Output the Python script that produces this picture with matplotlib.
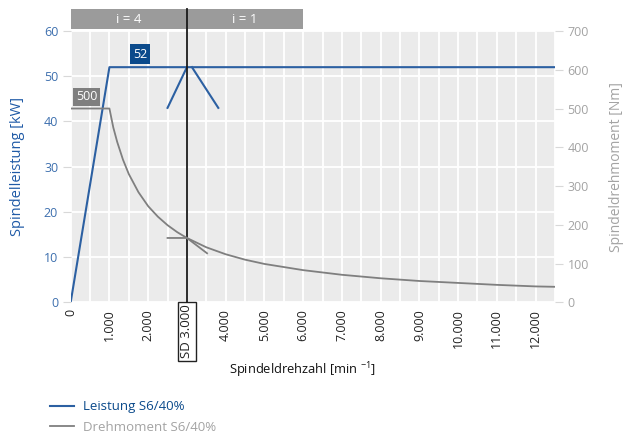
import matplotlib.pyplot as plt
from matplotlib import transforms
from matplotlib.patches import Rectangle

plt.rcParams['font.family'] = ['Open Sans', 'DejaVu Sans']
plt.rcParams['mathtext.fontset'] = 'custom'
plt.rcParams['mathtext.rm'] = 'Open Sans'

# spindle power S6/40% (kW) over speed (min^-1)
speed_power = [0, 1000, 12500]
power_kw = [0, 52, 52]

# spindle torque S6/40% (Nm)
speed_torque = [0, 1000, 1100, 1200, 1350, 1500, 1750, 2000, 2250, 2500, 2750,
                3000, 3500, 4000, 4500, 5000, 6000, 7000, 8000, 9000, 10000,
                11000, 12000, 12500]
torque_nm = [500, 500, 451, 414, 368, 331, 284, 248, 221, 199, 181,
             166, 142, 124, 110, 99, 83, 71, 62, 55, 50,
             45, 41, 40]

x_ticks = [0, 1000, 2000, 4000, 5000, 6000, 7000, 8000, 9000, 10000, 11000, 12000]
x_labels = ['0', '1.000', '2.000', '4.000', '5.000', '6.000', '7.000', '8.000',
            '9.000', '10.000', '11.000', '12.000']
gears = [(0, 3000, 'i = 4'), (3000, 6000, 'i = 1')]
sd_speed = 3000
rated_power = 52
rated_torque = 500

BLUE = '#2c60a2'
DARKBLUE = '#0b4a8b'
GREY = '#7f7f7f'
LIGHT = '#a3a3a3'

fig = plt.figure(figsize=(6.35, 4.41), dpi=100)
ax = fig.add_axes([0.1113, 0.3145, 0.7627, 0.6152])
ax2 = ax.twinx()

ax.set_facecolor('#ebebeb')
ax.set_xlim(0, 12500)
ax.set_ylim(0, 60)
ax2.set_ylim(0, 700)
ax.set_xticks(x_ticks)
ax.set_xticklabels(x_labels, rotation=90, fontsize=9, color='#222222')
ax.set_xticks(range(0, 12501, 500), minor=True)
ax.set_yticks(range(0, 61, 10))
ax2.set_yticks(range(0, 701, 100))
ax.grid(True, which='both', color='white', lw=1.3)
ax.set_axisbelow(True)
for a in (ax, ax2):
    for s in a.spines.values():
        s.set_visible(False)
ax.tick_params(axis='x', which='both', length=0, pad=5)
ax.tick_params(axis='y', length=6, color='#d8d8d8', labelcolor='#3d6fae', labelsize=9, pad=3)
ax2.tick_params(axis='y', length=6, color='#d8d8d8', labelcolor=LIGHT, labelsize=9, pad=3)

l_power, = ax.plot(speed_power, power_kw, color=BLUE, lw=1.5, zorder=5,
                   label='Leistung S6/40%')
l_torque, = ax2.plot(speed_torque, torque_nm, color=GREY, lw=1.3, zorder=4,
                     label='Drehmoment S6/40%')

# value tags
ax.text(1790, 54.9, str(rated_power), color='white', fontsize=9, ha='center', va='center',
        bbox=dict(boxstyle='square,pad=0.25', fc=DARKBLUE, ec='none'), zorder=6)
ax2.text(410, 531, str(rated_torque), color='white', fontsize=9, ha='center', va='center',
         bbox=dict(boxstyle='square,pad=0.2', fc=GREY, ec='none'), zorder=6)

# switching point markers
ax.plot([2500, sd_speed], [43, rated_power], color=BLUE, lw=1.5, zorder=5)
ax.plot([3130, 3810], [rated_power, 43], color=BLUE, lw=1.5, zorder=5)
ax2.plot([2500, sd_speed, 3520], [166, 166, 126.5], color=GREY, lw=1.3, zorder=4)

# gear range bars above the plot
tr = transforms.blended_transform_factory(ax.transData, ax.transAxes)
for x0, x1, txt in gears:
    ax.add_patch(Rectangle((x0, 1.0074), x1 - x0, 0.074, transform=tr, fc='#9b9b9b',
                           ec='none', clip_on=False))
    ax.text((x0 + x1) / 2, 1.044, txt, transform=tr, color='white', fontsize=9.5,
            ha='center', va='center')

ax.plot([sd_speed, sd_speed], [0, 1.0815], transform=tr, color='#1a1a1a', lw=1.3,
        clip_on=False, zorder=7)
ax.text(sd_speed, -0.008, 'SD 3.000', transform=tr, rotation=90, ha='center', va='top',
        fontsize=9.5, color='#222222',
        bbox=dict(boxstyle='square,pad=0.2', fc='white', ec='#222222', lw=1))

fig.text(302 / 635, 1 - 370 / 441, 'Spindeldrehzahl [min $^{-1}$]', ha='center', va='center',
         fontsize=9.3, color='#111111')
fig.text(18 / 635, 1 - 167 / 441, 'Spindelleistung [kW]', rotation=90, ha='center',
         va='center', fontsize=10.5, color='#1f5aa6')
fig.text(617 / 635, 1 - 167 / 441, 'Spindeldrehmoment [Nm]', rotation=90, ha='center',
         va='center', fontsize=10, color=LIGHT)

leg = fig.legend(handles=[l_power, l_torque], loc='center left',
                 bbox_to_anchor=(50 / 635, 1 - 417 / 441), frameon=False, fontsize=9.5,
                 borderpad=0, borderaxespad=0, handlelength=1.8, handletextpad=0.7,
                 labelspacing=0.55, labelcolor=[DARKBLUE, LIGHT])

fig.savefig('out.png', dpi=100)
